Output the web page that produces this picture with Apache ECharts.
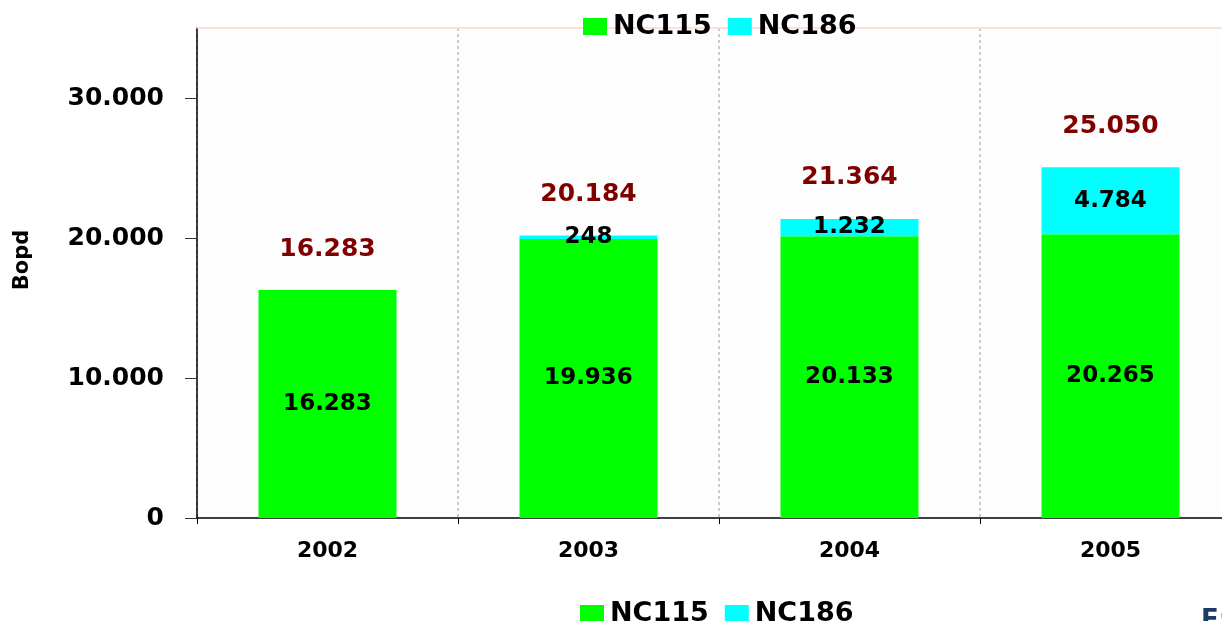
<!DOCTYPE html>
<html>
<head>
<meta charset="utf-8">
<script src="https://cdn.jsdelivr.net/npm/echarts@6/dist/echarts.min.js"></script>
<style>html,body{margin:0;padding:0;background:#fff;}#c{width:1222px;height:621px;}</style>
</head>
<body>
<div id="c"></div>
<script>
const categories = ['2002', '2003', '2004', '2005'];
const nc115 = [16283, 19936, 20133, 20265];
const nc186 = [null, 248, 1232, 4784];
const totals = [16283, 20184, 21364, 25050];
const yTicks = [0, 10000, 20000, 30000];

function fmt(v) {
  return String(v).replace(/\B(?=(\d{3})+(?!\d))/g, '.');
}
const FONT = 'DejaVu Sans';
const chart = echarts.init(document.getElementById('c'), null, {renderer: 'canvas'});
const legendText = {fontFamily: FONT, fontWeight: 'bold', fontSize: 27, color: '#000', padding: [0, 0, 0, 1]};
chart.setOption({
  animation: false,
  backgroundColor: '#ffffff',
  title: {
    text: 'E:', left: 1196, top: 603,
    textStyle: {fontFamily: FONT, fontWeight: 'bold', fontSize: 26, color: '#1c3a64'}
  },
  legend: [
    {
      data: ['NC115', 'NC186'], left: 578, top: 8,
      itemWidth: 24, itemHeight: 17, itemGap: 16,
      icon: 'rect', textStyle: legendText
    },
    {
      data: ['NC115', 'NC186'], left: 575, top: 595,
      itemWidth: 24, itemHeight: 17, itemGap: 16,
      icon: 'rect', textStyle: legendText
    }
  ],
  grid: {left: 197, right: -19, top: 28, bottom: 103, outerBoundsMode: 'none', containLabel: false,
    backgroundColor: '#fdfdfd', show: true, borderWidth: 0},
  xAxis: [
    {
      type: 'category', data: categories, position: 'bottom',
      axisLine: {lineStyle: {color: '#000', width: 1.5}},
      axisTick: {show: true, length: 6, lineStyle: {color: '#000'}},
      axisLabel: {margin: 22, fontFamily: FONT, fontWeight: 'bold', fontSize: 22, color: '#000'},
      splitLine: {show: true, lineStyle: {color: '#bbbbbb', type: [3, 3], width: 1.5}}
    },
    {
      type: 'category', data: categories, position: 'top',
      axisLine: {lineStyle: {color: '#f9d9cc', width: 1.5}},
      axisTick: {show: false}, axisLabel: {show: false}, splitLine: {show: false}
    }
  ],
  yAxis: {
    type: 'value', min: 0, max: 35000, interval: 10000,
    name: 'Bopd', nameLocation: 'middle', nameGap: 164, nameRotate: 90,
    nameTextStyle: {fontFamily: FONT, fontWeight: 'bold', fontSize: 21, color: '#000', padding: [0, 0, 0, 26]},
    axisLine: {show: true, lineStyle: {color: '#000', width: 1.5}},
    axisTick: {show: true, length: 12, customValues: yTicks, lineStyle: {color: '#333'}},
    axisLabel: {
      margin: 33, fontFamily: FONT, fontWeight: 'bold', fontSize: 25, color: '#000',
      customValues: yTicks,
      formatter: function (v) { return fmt(v); }
    },
    splitLine: {show: false}
  },
  series: [
    {
      name: 'NC115', type: 'bar', stack: 's', data: nc115, barWidth: 138,
      itemStyle: {color: '#00ff00'},
      label: {show: true, position: 'inside', fontFamily: FONT, fontWeight: 'bold', fontSize: 23, color: '#000',
        formatter: function (p) { return fmt(p.value); }}
    },
    {
      name: 'NC186', type: 'bar', stack: 's', data: nc186, barWidth: 138,
      itemStyle: {color: '#00ffff'},
      label: {show: true, position: 'inside', fontFamily: FONT, fontWeight: 'bold', fontSize: 23, color: '#000',
        formatter: function (p) { return p.value == null ? '' : fmt(p.value); }}
    },
    {
      name: 'Total', type: 'scatter', data: totals, symbolSize: 1,
      itemStyle: {color: 'rgba(0,0,0,0)', opacity: 1},
      label: {show: true, position: 'top', distance: 28, fontFamily: FONT, fontWeight: 'bold', fontSize: 25, color: '#800000',
        formatter: function (p) { return fmt(p.value); }}
    }
  ]
});
</script>
</body>
</html>
